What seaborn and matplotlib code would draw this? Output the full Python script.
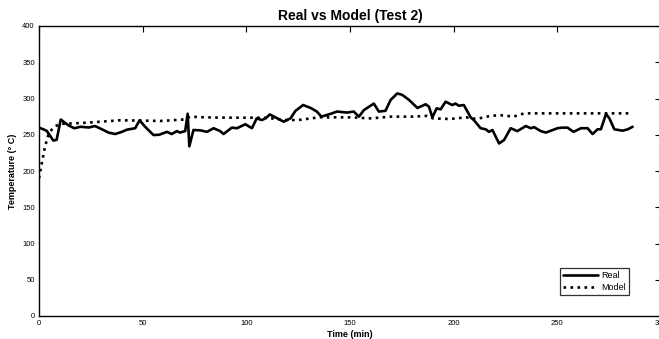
import matplotlib
matplotlib.use('Agg')
import matplotlib.pyplot as plt
import seaborn as sns
import pandas as pd

# Real temperature readings (time in min, temperature in deg C)
real_time = [0, 3.7, 6.9, 8.5, 10.5, 14.2, 17, 20, 24, 27, 30, 33.5, 36.7, 40, 42.4,
             46.4, 48.5, 51.2, 55.2, 58, 61.7, 64, 66.5, 68, 70.5, 71.7, 72.5, 74.5,
             78, 81, 84.2, 87.4, 89, 93, 95.5, 99.5, 102.7, 105, 107.5, 109.5, 111.3,
             114, 118, 121.3, 123.7, 127.4, 131, 134, 136.2, 140.5, 143.7, 148.6,
             151.8, 154.3, 156.7, 161.5, 163.9, 167.1, 169.6, 172.8, 175.2, 178.5,
             182.5, 186.5, 188.1, 189.7, 191.8, 193.7, 196.1, 199.3, 200.9, 202.5,
             204.9, 208.2, 209.8, 213, 215.5, 217, 218.7, 221.9, 224.3, 227.5, 230.7,
             234.8, 237.2, 238.8, 242, 244.5, 246.9, 250.1, 252.5, 254.9, 257.8,
             261.4, 264.6, 267, 269.4, 271, 273.5, 275.1, 277.5, 281.5, 284, 286.3]
real_temp = [260, 255.5, 242, 243, 271, 263, 259, 261, 260, 262, 258, 253, 251, 254, 257,
             259, 270, 261, 249.6, 250, 254, 251, 255, 253, 255, 279, 234, 256.6,
             256, 254, 259, 255, 251, 259.8, 259, 264.5, 259, 272.6, 270.3, 273, 278,
             274, 268, 272.6, 283, 291, 287, 282, 275, 278.7, 282, 280.6,
             282, 275, 284, 293, 282, 283, 298, 307, 305, 298,
             287, 292, 288.7, 274, 286.5, 285, 295.6, 291, 293, 290,
             291, 274, 270, 259, 257.5, 254, 256.5, 238, 242.7, 259, 255,
             262, 259, 260.5, 255, 253, 255.6, 259, 259.8, 259.8, 254,
             259, 259, 251, 257.5, 257.5, 278.7, 272.6, 257.5, 255.6, 257.5, 261]

# Model prediction
model_time = [0, 1.3, 2.9, 4.5, 6.1, 8, 10.3, 15, 23, 30, 39, 50, 58.5, 69.7, 73, 80,
              87.4, 100, 110, 118, 125, 135, 145, 150, 160, 170, 180, 187, 190, 198,
              206, 210.9, 217.7, 222.5, 228.9, 234, 245, 260, 275, 286]
model_temp = [190, 210, 233.6, 249.6, 257, 262, 265, 265.5, 266.6, 268, 270, 269.5, 269,
              271, 275, 274, 273.6, 273.5, 273.5, 270.3, 270.3, 274, 274, 274, 272.6,
              275, 275, 276, 272.6, 271.7, 274, 271.7, 276, 277, 275, 279.5, 279.5,
              279.5, 279.5, 279.5]

x_ticks = [0, 50, 100, 150, 200, 250, 300]
y_ticks = [0, 50, 100, 150, 200, 250, 300, 350, 400]

df_real = pd.DataFrame({'time': real_time, 'temp': real_temp})
df_model = pd.DataFrame({'time': model_time, 'temp': model_temp})

sns.set_style('white')
plt.rcParams['font.family'] = ['Liberation Sans', 'DejaVu Sans']
plt.rcParams['text.color'] = 'black'
plt.rcParams['axes.labelcolor'] = 'black'

fig = plt.figure(figsize=(6.59, 3.39), dpi=100)
ax = fig.add_axes([39 / 659, 23 / 339, 622 / 659, 290 / 339])

sns.lineplot(data=df_real, x='time', y='temp', ax=ax, color='black', linewidth=1.9,
             label='Real', sort=False)
sns.lineplot(data=df_model, x='time', y='temp', ax=ax, color='black', linewidth=1.9,
             linestyle=':', label='Model', sort=False)

ax.set_xlim(0, 300)
ax.set_ylim(0, 400)
ax.set_xticks(x_ticks)
ax.set_yticks(y_ticks)
ax.tick_params(direction='in', length=4, width=0.8, labelsize=5.5, colors='black',
               top=True, right=True, pad=3)
for s in ax.spines.values():
    s.set_color('black')
    s.set_linewidth(1.0)

ax.set_title('Real vs Model (Test 2)', fontsize=10, fontweight='bold', pad=4, color='black')
ax.set_xlabel('Time (min)', fontsize=6.5, fontweight='bold', labelpad=2)
ax.set_ylabel('Temperature (\u00b0 C)', fontsize=6.5, fontweight='bold', labelpad=4)

leg = ax.legend(loc='lower right', bbox_to_anchor=(634 / 659, 39 / 339),
                bbox_transform=fig.transFigure, fontsize=6.5, frameon=True,
                fancybox=False, handlelength=3.8, borderpad=0.4, labelspacing=0.3,
                handletextpad=0.4)
leg.get_frame().set_edgecolor('black')
leg.get_frame().set_linewidth(0.9)

fig.savefig('out.png', dpi=100)
